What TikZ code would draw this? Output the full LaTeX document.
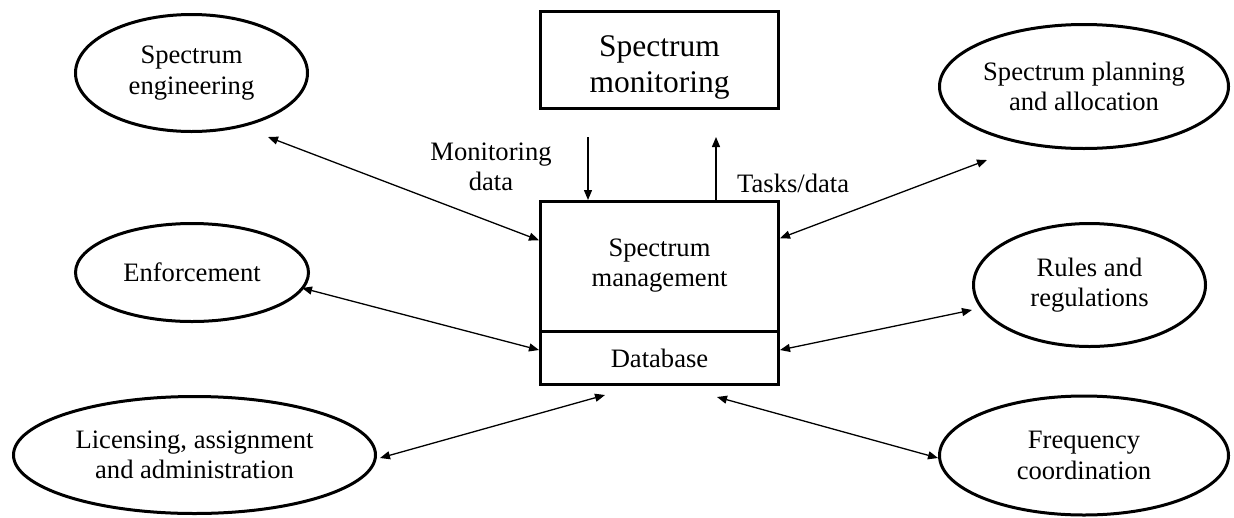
\documentclass[tikz,border=0pt]{standalone}
\usepackage{fontspec}
\setmainfont{Liberation Serif}
\usetikzlibrary{arrows.meta,shapes.geometric}

\begin{document}
\begin{tikzpicture}[
  x=1pt, y=-1pt,
  txt/.style={font=\fontsize{26.6pt}{30.6pt}\selectfont, align=center, inner sep=0pt},
  bigtxt/.style={font=\fontsize{31.5pt}{36pt}\selectfont, align=center, inner sep=0pt},
  oval/.style={ellipse, draw, line width=3pt, inner sep=0pt, txt},
  block/.style={rectangle, draw, line width=3pt, inner sep=0pt, minimum width=238pt},
  link/.style={line width=1.3pt, {Triangle[length=10pt,width=8pt]}-{Triangle[length=10pt,width=8pt]}},
  flow/.style={line width=1.3pt, -{Triangle[length=10pt,width=8pt]}}
]
\useasboundingbox (0,0) rectangle (1234,517);

% central blocks
\node[block, minimum height=97pt] (mon) at (659.5,60) {};
\node[bigtxt] (montxt) at (659.5,67.6) {Spectrum\\monitoring};
\node[block, minimum height=129.5pt] (mgmt) at (659.5,266.25) {};
\node[txt] (mgmttxt) at (659.5,265.7) {Spectrum\\management};
\node[block, minimum height=53.5pt] (db) at (659.5,357.75) {};
\node[txt] (dbtxt) at (659.5,358) {Database};

% surrounding functions
\node[oval, minimum width=232pt, minimum height=117pt] (eng) at (191.5,73) {Spectrum\\engineering};
\node[oval, minimum width=289pt, minimum height=124pt] (plan) at (1084,86.5) {Spectrum planning\\and allocation};
\node[oval, minimum width=233pt, minimum height=98pt] (enf) at (192,272.5) {Enforcement};
\node[oval, minimum width=232pt, minimum height=123pt] (rules) at (1089.5,285) {Rules and\\regulations};
\node[oval, minimum width=362pt, minimum height=117pt] (lic) at (194.5,455) {Licensing, assignment\\and administration};
\node[oval, minimum width=289pt, minimum height=119pt] (freq) at (1084,455.5) {Frequency\\coordination};

% labels on the monitoring links
\node[txt] (mdata) at (491,167) {Monitoring\\data};
\node[txt, anchor=base west] (tdata) at (737,192) {Tasks/data};

% free ends of the two-way links near the ovals
\coordinate (engP) at (268,137);
\coordinate (planP) at (987,160);
\coordinate (enfP) at (302,288);
\coordinate (rulesP) at (972,310);
\coordinate (licP) at (380,458);
\coordinate (freqP) at (938,458);

% two-way links
\draw[link] (engP) -- ([yshift=26pt]mgmt.west);
\draw[link] (planP) -- ([yshift=28pt]mgmt.east);
\draw[link] (enfP) -- ([yshift=7.75pt]db.west);
\draw[link] (rulesP) -- ([yshift=7.75pt]db.east);
\draw[link] (licP) -- ([xshift=-54.5pt,yshift=-9pt]db.south);
\draw[link] (freqP) -- ([xshift=57.5pt,yshift=-11pt]db.south);

% monitoring exchange
\draw[flow] ([xshift=-71.5pt,yshift=-27pt]mon.south) -- ([xshift=-71.5pt]mgmt.north);
\draw[flow] ([xshift=56.5pt]mgmt.north) -- ([xshift=56.5pt,yshift=-27pt]mon.south);
\end{tikzpicture}
\end{document}
